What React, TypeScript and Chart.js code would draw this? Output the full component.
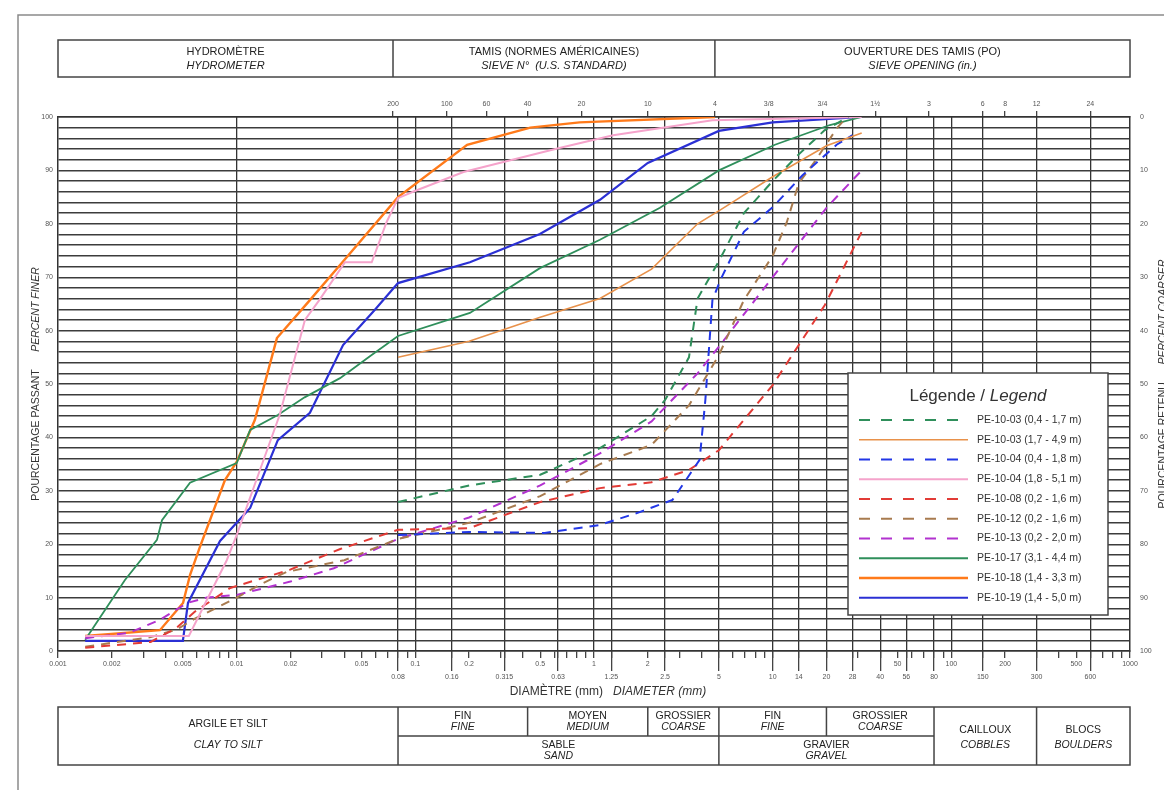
import React, { useEffect, useRef } from 'react';
import { Chart, registerables } from 'chart.js';

Chart.register(...registerables);

const FONT = '"Liberation Sans", Arial, sans-serif';

// ---------- axes / reference values ----------
const X_MIN = 0.001;
const X_MAX = 1000;
const GRID_X = [0.01, 0.08, 0.1, 0.16, 0.315, 0.63, 1, 1.25, 2.5, 5, 10, 14, 20, 28, 40, 56, 80, 100, 150, 300, 600];
const UPPER_LABELS = [0.001, 0.002, 0.005, 0.01, 0.02, 0.05, 0.1, 0.2, 0.5, 1, 2, 50, 100, 200, 500, 1000];
const LOWER_LABELS = [0.08, 0.16, 0.315, 0.63, 1.25, 2.5, 5, 10, 14, 20, 28, 40, 56, 80, 150, 300, 600];
const SIEVE_SIZES = [0.075, 0.15, 0.25, 0.425, 0.85, 2, 4.75, 9.5, 19, 37.5, 75, 150, 200, 300, 600];
const SIEVE_LABELS = ['200', '100', '60', '40', '20', '10', '4', '3/8', '3/4', '1½', '3', '6', '8', '12', '24'];
const HEADER_SPLITS = [0.075, 4.75];
const CLASS_SPLITS = [0.08, 0.425, 2, 5, 20, 80, 300];
const Y_TICKS = [0, 2, 4, 6, 8, 10, 12, 14, 16, 18, 20, 22, 24, 26, 28, 30, 32, 34, 36, 38, 40, 42, 44, 46, 48, 50, 52, 54, 56, 58, 60, 62, 64, 66, 68, 70, 72, 74, 76, 78, 80, 82, 84, 86, 88, 90, 92, 94, 96, 98, 100];
const MINOR_MULT = [1, 2, 3, 4, 5, 6, 7, 8, 9];
const DECADES = [-3, -2, -1, 0, 1, 2];

// ---------- series (diameter mm / percent finer) ----------
const PE1003A_D = [0.08, 0.2, 0.5, 1.08, 2.1, 2.5, 3.4, 3.8, 5, 6.9, 10, 14, 19.5, 26.5];
const PE1003A_P = [27.9, 31, 33, 38, 44, 47, 55, 66, 73, 82, 88, 93, 97.5, 100];

const PE1003B_D = [0.08, 0.2, 0.5, 1.08, 2.1, 3.8, 5.1, 10, 20, 31.5];
const PE1003B_P = [55, 58, 62.5, 66, 71.5, 80, 82.6, 88.8, 94.6, 97];

const PE1004A_D = [0.08, 0.2, 0.53, 1.08, 1.8, 2.75, 3.9, 4.2, 4.6, 5.1, 6.9, 10, 14.7, 22.8, 28];
const PE1004A_P = [21.7, 22.3, 22.1, 23.6, 26, 28.3, 35.8, 47, 65.7, 69.5, 78.5, 83.1, 89.1, 94.8, 96.6];

const PE1004B_D = [0.00142, 0.0054, 0.0088, 0.01, 0.0135, 0.0174, 0.0241, 0.029, 0.0404, 0.057, 0.069, 0.08, 0.097, 0.186, 0.64, 1.28, 4.6, 31.5];
const PE1004B_P = [2.8, 2.8, 17, 21.7, 33.9, 44.2, 62, 65.7, 72.8, 72.8, 80.3, 84.8, 86, 89.7, 94.2, 96.6, 99.4, 100];

const PE1008_D = [0.00142, 0.0033, 0.0046, 0.0058, 0.0092, 0.0198, 0.038, 0.08, 0.2, 0.5, 1.08, 2.1, 3.4, 5, 10, 14, 19.6, 31.5];
const PE1008_P = [0.6, 1.7, 4.3, 7.3, 11.8, 15.2, 19.1, 22.7, 23, 27.9, 30.5, 31.6, 33.9, 37.6, 49.8, 57.3, 64.8, 78.5];

const PE1012_D = [0.00142, 0.0033, 0.0046, 0.0058, 0.01, 0.014, 0.019, 0.04, 0.08, 0.2, 0.5, 1.08, 2.1, 3.4, 5, 6.9, 10, 12, 14, 17, 23, 26];
const PE1012_P = [0.8, 2.6, 4, 6, 10, 12.7, 14.8, 17, 21, 24, 29, 35, 38.6, 46, 55.4, 65.7, 74, 80.3, 87.6, 91.4, 98, 100];

const PE1013_D = [0.00142, 0.0025, 0.0037, 0.0053, 0.0068, 0.01, 0.02, 0.035, 0.08, 0.2, 0.5, 1.08, 2.1, 3.8, 5, 10, 20, 31.5];
const PE1013_P = [2.4, 3.4, 5.8, 9, 10, 10.5, 13, 15.5, 21, 25, 31, 37, 43, 52, 57, 70, 83, 90];

const PE1017_D = [0.00142, 0.00237, 0.00358, 0.00382, 0.00548, 0.01, 0.0119, 0.017, 0.024, 0.0379, 0.0557, 0.08, 0.202, 0.498, 1.08, 2.34, 5, 10.3, 20.9, 31.5];
const PE1017_P = [2.1, 13.3, 20.8, 24.5, 31.5, 35.2, 41.4, 44.2, 47.5, 51.1, 55.2, 59, 63.3, 71.7, 77, 83, 90, 94.8, 98.5, 100];

const PE1018_D = [0.00142, 0.00372, 0.00501, 0.00548, 0.0062, 0.0086, 0.01, 0.01265, 0.0168, 0.0257, 0.0379, 0.08, 0.195, 0.44, 0.83, 4.75];
const PE1018_P = [2.8, 3.9, 9, 14.2, 19.3, 32, 35.4, 43.3, 58.6, 65.7, 72.3, 85, 94.8, 98, 99, 100];

const PE1019_D = [0.00142, 0.005, 0.00534, 0.00807, 0.0119, 0.017, 0.0257, 0.0394, 0.0594, 0.08, 0.202, 0.498, 1.08, 2.0, 5, 10, 31.5];
const PE1019_P = [1.9, 1.9, 9, 20.6, 26.8, 39.5, 44.6, 57.3, 63.9, 68.9, 72.8, 78.1, 84.5, 91.4, 97.4, 99, 100];

const SERIES_NAMES = [
  'PE-10-03 (0,4 - 1,7 m)',
  'PE-10-03 (1,7 - 4,9 m)',
  'PE-10-04 (0,4 - 1,8 m)',
  'PE-10-04 (1,8 - 5,1 m)',
  'PE-10-08 (0,2 - 1,6 m)',
  'PE-10-12 (0,2 - 1,6 m)',
  'PE-10-13 (0,2 - 2,0 m)',
  'PE-10-17 (3,1 - 4,4 m)',
  'PE-10-18 (1,4 - 3,3 m)',
  'PE-10-19 (1,4 - 5,0 m)',
];
const SERIES_D = [PE1003A_D, PE1003B_D, PE1004A_D, PE1004B_D, PE1008_D, PE1012_D, PE1013_D, PE1017_D, PE1018_D, PE1019_D];
const SERIES_P = [PE1003A_P, PE1003B_P, PE1004A_P, PE1004B_P, PE1008_P, PE1012_P, PE1013_P, PE1017_P, PE1018_P, PE1019_P];
const SERIES_COLORS = ['#2f8f5b', '#e8914a', '#2237e6', '#f5a3cb', '#e23b36', '#a87b4f', '#b232cf', '#2f8f5b', '#ff7a1a', '#2b30d4'];
const SERIES_WIDTH = [2, 1.6, 2, 2, 2, 2, 2, 1.8, 2.4, 2.2];
const SERIES_DASHED = [true, false, true, false, true, true, true, false, false, false];

// ---------- helpers ----------
const near = (a: number, b: number) => Math.abs(Math.log10(a) - Math.log10(b)) < 1e-6;
const inList = (v: number, list: number[]) => list.some((w) => near(v, w));
const fmt = (v: number) => String(Number(v.toPrecision(6)));

const MINOR_TICKS: number[] = [];
DECADES.forEach((k) => MINOR_MULT.forEach((m) => MINOR_TICKS.push(Number((m * Math.pow(10, k)).toPrecision(6)))));
MINOR_TICKS.push(1000);
const X_TICKS = [...MINOR_TICKS, ...GRID_X.filter((g) => !inList(g, MINOR_TICKS))].sort((a, b) => a - b);

function mixedText(ctx: CanvasRenderingContext2D, parts: [string, string][], cx: number, cy: number) {
  let total = 0;
  parts.forEach(([t, f]) => { ctx.font = f; total += ctx.measureText(t).width; });
  let x = cx - total / 2;
  ctx.textAlign = 'left';
  ctx.textBaseline = 'middle';
  parts.forEach(([t, f]) => { ctx.font = f; ctx.fillText(t, x, cy); x += ctx.measureText(t).width; });
}

function centerText(ctx: CanvasRenderingContext2D, t: string, cx: number, cy: number, font: string, maxW?: number) {
  ctx.font = font;
  ctx.textAlign = 'center';
  ctx.textBaseline = 'middle';
  if (maxW) ctx.fillText(t, cx, cy, maxW); else ctx.fillText(t, cx, cy);
}

const decorPlugin = {
  id: 'decor',
  afterDraw(chart: any) {
    const ctx: CanvasRenderingContext2D = chart.ctx;
    const xs = chart.scales.x;
    const ca = chart.chartArea;
    const px = (v: number) => xs.getPixelForValue(v);
    ctx.save();
    // page frame
    ctx.strokeStyle = '#8a8a8a';
    ctx.lineWidth = 1.5;
    ctx.beginPath();
    ctx.moveTo(18, 790); ctx.lineTo(18, 15); ctx.lineTo(1164, 15);
    ctx.stroke();

    ctx.fillStyle = '#222';
    ctx.strokeStyle = '#444';
    // header table
    const hT = 40, hB = 77;
    ctx.lineWidth = 1.5;
    ctx.strokeRect(ca.left, hT, ca.right - ca.left, hB - hT);
    ctx.beginPath();
    HEADER_SPLITS.forEach((v) => { ctx.moveTo(px(v), hT); ctx.lineTo(px(v), hB); });
    ctx.stroke();
    const hEdges = [ca.left, ...HEADER_SPLITS.map(px), ca.right];
    const hTexts = [
      ['HYDROMÈTRE', 'HYDROMETER'],
      ['TAMIS (NORMES AMÉRICAINES)', 'SIEVE N°  (U.S. STANDARD)'],
      ['OUVERTURE DES TAMIS (PO)', 'SIEVE OPENING (in.)'],
    ];
    hTexts.forEach(([a, b], i) => {
      const cx = (hEdges[i] + hEdges[i + 1]) / 2;
      centerText(ctx, a, cx, 51.5, `11px ${FONT}`);
      centerText(ctx, b, cx, 65.5, `italic 11px ${FONT}`);
    });

    // footer table
    const fT = 707, fM = 736, fB = 765;
    const e = CLASS_SPLITS.map(px);
    ctx.lineWidth = 1.5;
    ctx.strokeRect(ca.left, fT, ca.right - ca.left, fB - fT);
    ctx.beginPath();
    e.forEach((x, i) => {
      let bottom = fB;
      if (i === 1 || i === 2 || i === 4) bottom = fM;
      ctx.moveTo(x, fT); ctx.lineTo(x, bottom);
    });
    ctx.moveTo(e[0], fM); ctx.lineTo(e[5], fM);
    ctx.stroke();
    const f = `10.5px ${FONT}`;
    const fi = `italic 10.5px ${FONT}`;
    centerText(ctx, 'ARGILE ET SILT', (ca.left + e[0]) / 2, 724, f);
    centerText(ctx, 'CLAY TO SILT', (ca.left + e[0]) / 2, 745, fi);
    const small: [number, number, string, string][] = [
      [e[0], e[1], 'FIN', 'FINE'],
      [e[1], e[2], 'MOYEN', 'MEDIUM'],
      [e[2], e[3], 'GROSSIER', 'COARSE'],
      [e[3], e[4], 'FIN', 'FINE'],
      [e[4], e[5], 'GROSSIER', 'COARSE'],
    ];
    small.forEach(([a, b, t1, t2]) => {
      centerText(ctx, t1, (a + b) / 2, 716, f, b - a - 2);
      centerText(ctx, t2, (a + b) / 2, 727, fi, b - a - 2);
    });
    centerText(ctx, 'SABLE', (e[0] + e[3]) / 2, 745, f);
    centerText(ctx, 'SAND', (e[0] + e[3]) / 2, 756, fi);
    centerText(ctx, 'GRAVIER', (e[3] + e[5]) / 2, 745, f);
    centerText(ctx, 'GRAVEL', (e[3] + e[5]) / 2, 756, fi);
    centerText(ctx, 'CAILLOUX', (e[5] + e[6]) / 2, 730, f);
    centerText(ctx, 'COBBLES', (e[5] + e[6]) / 2, 745, fi);
    centerText(ctx, 'BLOCS', (e[6] + ca.right) / 2, 730, f);
    centerText(ctx, 'BOULDERS', (e[6] + ca.right) / 2, 745, fi);

    // axis titles
    ctx.fillStyle = '#333';
    mixedText(ctx, [['DIAMÈTRE (mm)   ', `12px ${FONT}`], ['DIAMETER (mm)', `italic 12px ${FONT}`]], 608, 692);
    const cy = (ca.top + ca.bottom) / 2;
    ctx.save();
    ctx.translate(36, cy);
    ctx.rotate(-Math.PI / 2);
    mixedText(ctx, [['POURCENTAGE PASSANT      ', `10.5px ${FONT}`], ['PERCENT FINER', `italic 10.5px ${FONT}`]], 0, 0);
    ctx.restore();
    ctx.save();
    ctx.translate(1163, cy);
    ctx.rotate(-Math.PI / 2);
    mixedText(ctx, [['POURCENTAGE RETENU      ', `10.5px ${FONT}`], ['PERCENT COARSER', `italic 10.5px ${FONT}`]], 0, 0);
    ctx.restore();

    // legend
    const lx = 848, ly = 373, lw = 260, lh = 242;
    ctx.fillStyle = '#fff';
    ctx.fillRect(lx, ly, lw, lh);
    ctx.strokeStyle = '#444';
    ctx.lineWidth = 1.5;
    ctx.strokeRect(lx, ly, lw, lh);
    ctx.fillStyle = '#333';
    mixedText(ctx, [['Légende / ', `17px ${FONT}`], ['Legend', `italic 17px ${FONT}`]], 978, 396);
    chart.data.datasets.forEach((ds: any, i: number) => {
      const y = 420 + i * 19.75;
      ctx.strokeStyle = ds.borderColor;
      ctx.lineWidth = ds.borderWidth;
      ctx.setLineDash(ds.borderDash && ds.borderDash.length ? [11, 11] : []);
      ctx.beginPath();
      ctx.moveTo(859, y); ctx.lineTo(968, y);
      ctx.stroke();
      ctx.setLineDash([]);
      ctx.fillStyle = '#333';
      ctx.font = `10.5px ${FONT}`;
      ctx.textAlign = 'left';
      ctx.textBaseline = 'middle';
      ctx.fillText(ds.label, 977, y);
    });
    ctx.restore();
  },
};

const tickFont = { family: FONT, size: 7, lineHeight: 1.8 };
const tickFontSmall = { family: FONT, size: 7 };

export default function App() {
  const ref = useRef<HTMLCanvasElement | null>(null);
  useEffect(() => {
    if (!ref.current) return;
    const datasets = SERIES_NAMES.map((name, i) => ({
      label: name,
      data: SERIES_D[i].map((d, j) => ({ x: d, y: SERIES_P[i][j] })),
      borderColor: SERIES_COLORS[i],
      backgroundColor: SERIES_COLORS[i],
      borderWidth: SERIES_WIDTH[i],
      borderDash: SERIES_DASHED[i] ? [9, 7] : [],
      pointRadius: 0,
      tension: 0,
      fill: false,
      xAxisID: 'x',
      yAxisID: 'y',
    }));
    const chart = new Chart(ref.current, {
      type: 'line',
      data: { datasets },
      plugins: [decorPlugin],
      options: {
        responsive: false,
        animation: false,
        devicePixelRatio: 1,
        layout: { padding: { left: 28, right: 4, top: 87, bottom: 99 } },
        plugins: { legend: { display: false }, tooltip: { enabled: false } },
        scales: {
          x: {
            type: 'logarithmic',
            position: 'bottom',
            weight: 1,
            min: X_MIN,
            max: X_MAX,
            afterBuildTicks: (s: any) => { s.ticks = X_TICKS.map((v) => ({ value: v })); },
            afterFit: (s: any) => { s.height = 40; },
            grid: {
              color: (c: any) => (c.tick && inList(c.tick.value, GRID_X) ? '#333' : 'rgba(0,0,0,0)'),
              tickColor: '#444',
              lineWidth: 1.3,
              drawTicks: true,
              tickLength: 7,
            },
            border: { display: true, color: '#333', width: 1.5 },
            ticks: {
              autoSkip: false,
              maxRotation: 0,
              minRotation: 0,
              padding: 0,
              font: tickFont,
              color: '#555',
              callback: (v: any) => {
                const n = Number(v);
                if (inList(n, UPPER_LABELS)) return fmt(n);
                if (inList(n, LOWER_LABELS)) return ['', fmt(n)];
                return '';
              },
            },
          },
          xLow: {
            type: 'logarithmic',
            position: 'bottom',
            weight: 0,
            min: X_MIN,
            max: X_MAX,
            afterBuildTicks: (s: any) => { s.ticks = LOWER_LABELS.map((v) => ({ value: v })); },
            afterFit: (s: any) => { s.height = 0; },
            grid: { drawOnChartArea: false, drawTicks: true, tickLength: 20, tickColor: '#444', lineWidth: 1.3 },
            border: { display: false },
            ticks: { display: false },
          },
          xTop: {
            type: 'logarithmic',
            position: 'top',
            min: X_MIN,
            max: X_MAX,
            afterBuildTicks: (s: any) => { s.ticks = SIEVE_SIZES.map((v) => ({ value: v })); },
            afterFit: (s: any) => { s.height = 30; },
            grid: { drawOnChartArea: false, drawTicks: true, tickLength: 6, tickColor: '#444', lineWidth: 1.3 },
            border: { display: true, color: '#333', width: 1.5 },
            ticks: {
              autoSkip: false,
              maxRotation: 0,
              minRotation: 0,
              padding: 3,
              font: tickFontSmall,
              color: '#555',
              callback: (v: any) => {
                const i = SIEVE_SIZES.findIndex((w) => near(w, Number(v)));
                return i >= 0 ? SIEVE_LABELS[i] : '';
              },
            },
          },
          y: {
            type: 'linear',
            position: 'left',
            min: 0,
            max: 100,
            afterBuildTicks: (s: any) => { s.ticks = Y_TICKS.map((v) => ({ value: v })); },
            afterFit: (s: any) => { s.width = 30; },
            grid: { color: '#3c3c3c', lineWidth: 1.4, drawTicks: false },
            border: { display: true, color: '#333', width: 1.5 },
            ticks: {
              autoSkip: false,
              padding: 5,
              font: tickFontSmall,
              color: '#555',
              callback: (v: any) => (Number(v) % 10 === 0 ? String(v) : ''),
            },
          },
          y2: {
            type: 'linear',
            position: 'right',
            min: 0,
            max: 100,
            reverse: true,
            afterBuildTicks: (s: any) => { s.ticks = Y_TICKS.map((v) => ({ value: v })); },
            afterFit: (s: any) => { s.width = 30; },
            grid: { drawOnChartArea: false, drawTicks: false },
            border: { display: true, color: '#333', width: 1.5 },
            ticks: {
              autoSkip: false,
              padding: 10,
              font: tickFontSmall,
              color: '#555',
              callback: (v: any) => (Number(v) % 10 === 0 ? String(v) : ''),
            },
          },
        },
      } as any,
    });
    return () => chart.destroy();
  }, []);
  return (
    <div style={{ position: 'absolute', left: 0, top: 0, width: 1164, height: 790, background: '#fff' }}>
      <canvas ref={ref} width={1164} height={790} style={{ display: 'block' }} />
    </div>
  );
}
